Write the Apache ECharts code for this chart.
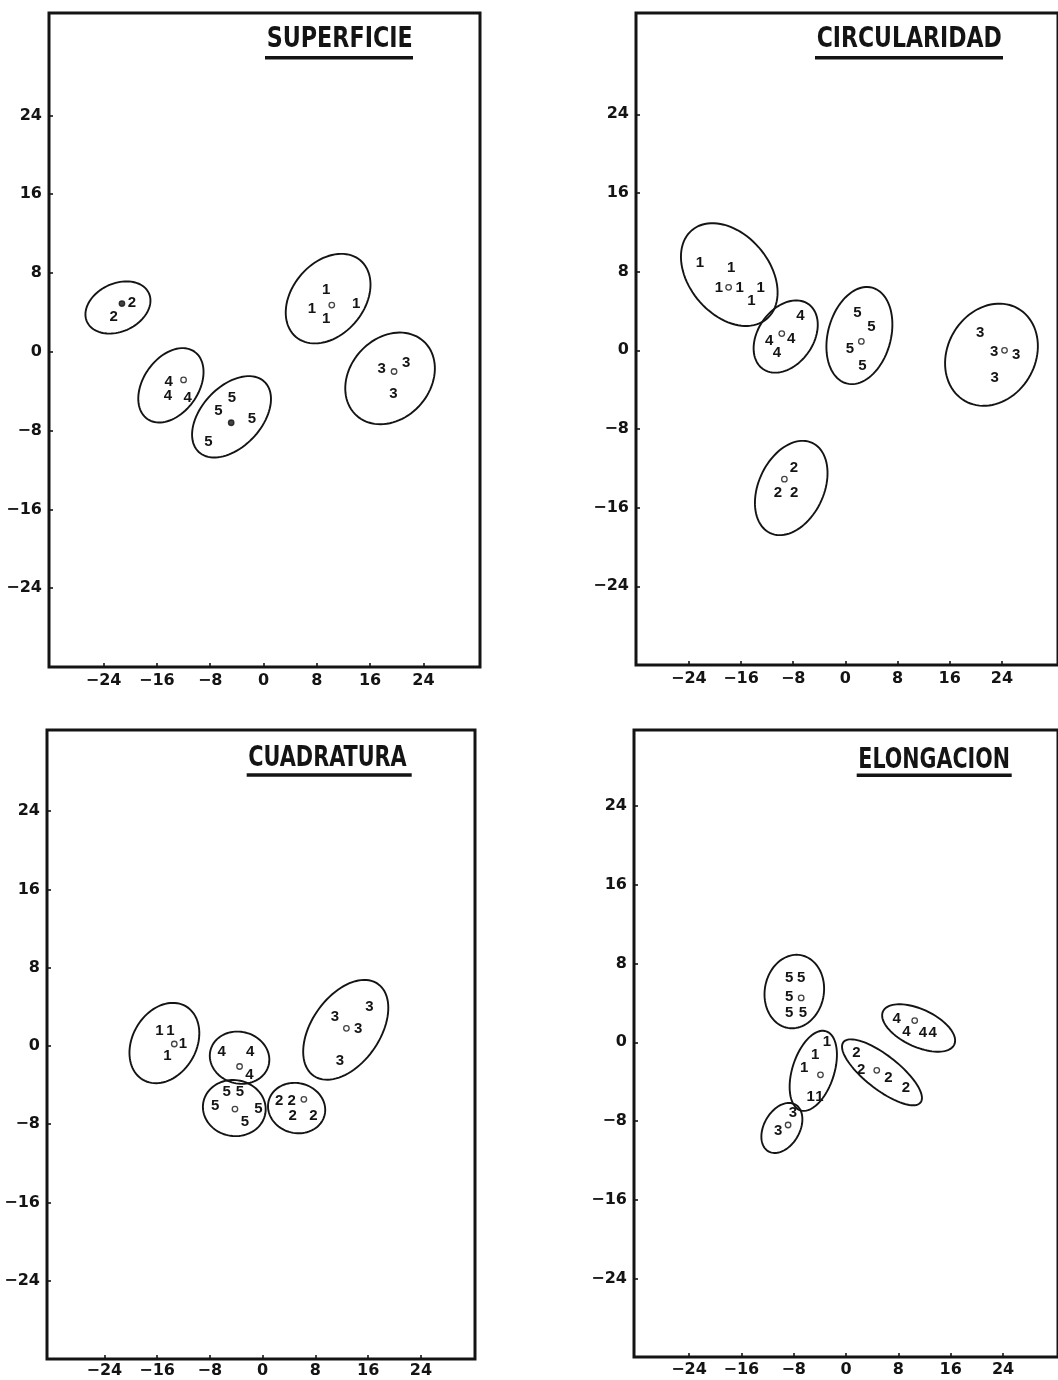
<!DOCTYPE html>
<html><head><meta charset="utf-8">
<script src="https://cdn.jsdelivr.net/npm/echarts@6/dist/echarts.min.js"></script>
<style>html,body{margin:0;padding:0;background:#fff}#chart{width:1058px;height:1380px}</style>
</head><body><div id="chart"></div>
<script>
// ---------- DATA ----------
const tickValues = [-24, -16, -8, 0, 8, 16, 24];
const panelTitles = ['SUPERFICIE', 'CIRCULARIDAD', 'CUADRATURA', 'ELONGACION'];

// points: [x, y, group]
const superficiePoints = [
  [9.4, 6.25, 1], [7.25, 4.4, 1], [9.4, 3.3, 1], [13.9, 4.85, 1],
  [-22.5, 3.6, 2], [-19.75, 5.0, 2],
  [17.75, -1.7, 3], [21.4, -1.1, 3], [19.5, -4.3, 3],
  [-14.25, -3.1, 4], [-14.35, -4.5, 4], [-11.4, -4.7, 4],
  [-4.75, -4.7, 5], [-6.75, -6.0, 5], [-1.75, -6.8, 5], [-8.25, -9.1, 5]
];
const superficieCentroids = [[10.25, 4.75, 1], [-21.25, 4.9, 2], [19.6, -2.0, 3], [-12.0, -2.85, 4], [-4.85, -7.2, 5]];
// ellipses: [cx, cy, semi-major, semi-minor, angle(deg)]
const superficieEllipses = [
  [9.7, 5.4, 5.08, 3.66, 50], [-21.85, 4.5, 3.46, 2.44, 25], [19.0, -2.7, 5.08, 4.07, 48],
  [-13.9, -3.4, 4.17, 2.8, 55], [-4.8, -6.6, 4.88, 3.05, 47]
];

const circularidadPoints = [
  [-22.3, 8.9, 1], [-17.5, 8.4, 1], [-19.4, 6.3, 1], [-16.2, 6.3, 1], [-14.4, 5.0, 1], [-13.0, 6.4, 1],
  [-7.9, -12.0, 2], [-10.35, -14.5, 2], [-7.85, -14.5, 2],
  [20.65, 1.8, 3], [22.8, -0.2, 3], [26.2, -0.45, 3], [22.9, -2.8, 3],
  [-6.9, 3.5, 4], [-11.7, 1.0, 4], [-8.3, 1.2, 4], [-10.5, -0.3, 4],
  [1.85, 3.85, 5], [4.0, 2.4, 5], [0.7, 0.15, 5], [2.6, -1.6, 5]
];
const circularidadCentroids = [[-17.9, 6.4, 1], [-9.35, -13.1, 2], [24.4, 0.0, 3], [-9.75, 1.7, 4], [2.45, 0.9, 5]];
const circularidadEllipses = [
  [-17.8, 7.7, 5.9, 4.08, -50], [-8.3, -14.0, 5.06, 3.32, 65], [22.4, -0.45, 5.42, 4.46, 60],
  [-9.15, 1.4, 4.03, 2.81, 55], [2.15, 1.5, 5.04, 3.2, 75]
];

const cuadraturaPoints = [
  [-15.65, 1.55, 1], [-14.0, 1.55, 1], [-12.1, 0.2, 1], [-14.45, -1.0, 1],
  [2.5, -5.65, 2], [4.4, -5.65, 2], [4.55, -7.1, 2], [7.7, -7.1, 2],
  [10.95, 3.0, 3], [16.2, 4.0, 3], [14.5, 1.7, 3], [11.7, -1.55, 3],
  [-6.2, -0.6, 4], [-1.9, -0.6, 4], [-2.0, -3.0, 4],
  [-5.45, -4.65, 5], [-3.45, -4.65, 5], [-7.2, -6.1, 5], [-0.65, -6.45, 5], [-2.7, -7.8, 5]
];
const cuadraturaCentroids = [[-13.4, 0.2, 1], [6.25, -5.45, 2], [12.7, 1.8, 3], [-3.5, -2.1, 4], [-4.2, -6.45, 5]];
const cuadraturaEllipses = [
  [-14.9, 0.3, 4.35, 3.27, 60], [5.15, -6.35, 2.95, 2.55, -15], [12.6, 1.65, 5.73, 3.48, 55],
  [-3.5, -1.2, 3.07, 2.64, -15], [-4.3, -6.35, 3.22, 2.86, -10]
];

const elongacionPoints = [
  [-2.9, 0.0, 1], [-4.7, -1.3, 1], [-6.4, -2.55, 1], [-5.4, -5.5, 1], [-4.05, -5.5, 1],
  [1.6, -1.1, 2], [2.3, -2.85, 2], [6.5, -3.6, 2], [9.15, -4.6, 2],
  [-8.1, -7.2, 3], [-10.35, -9.0, 3],
  [7.75, 2.4, 4], [9.25, 1.1, 4], [11.75, 0.97, 4], [13.25, 0.97, 4],
  [-8.7, 6.5, 5], [-6.85, 6.5, 5], [-8.7, 4.6, 5], [-8.7, 3.0, 5], [-6.6, 3.0, 5]
];
const elongacionCentroids = [[-3.9, -3.3, 1], [4.7, -2.85, 2], [-8.85, -8.4, 3], [10.5, 2.2, 4], [-6.85, 4.5, 5]];
const elongacionEllipses = [
  [-5.0, -2.9, 4.22, 2.12, 72], [5.5, -3.05, 4.97, 1.72, -38], [-9.8, -8.7, 2.74, 1.81, 60],
  [11.1, 1.45, 3.99, 1.9, -25], [-7.9, 5.15, 3.75, 3.0, 80]
];

// ---------- LAYOUT / STYLE ----------
const INK = '#141414';
const panels = [
  { title: panelTitles[0], points: superficiePoints, centroids: superficieCentroids, ellipses: superficieEllipses,
    grid: { left: 49, top: 13, width: 431, height: 654 }, xr: [-32.2, 32.5], yr: [-32.0, 34.4],
    tbox: { x0: 266.7, x1: 412.7, cy: 39.3, uy: 56, ux0: 265, ux1: 413 }, xMargin: 6, filled: [2, 5] },
  { title: panelTitles[1], points: circularidadPoints, centroids: circularidadCentroids, ellipses: circularidadEllipses,
    grid: { left: 636, top: 13, width: 431, height: 652 }, xr: [-32.1, 32.6], yr: [-32.0, 34.3],
    tbox: { x0: 816.7, x1: 1001.7, cy: 39.6, uy: 56, ux0: 815, ux1: 1003 }, xMargin: 6, filled: [] },
  { title: panelTitles[2], points: cuadraturaPoints, centroids: cuadraturaCentroids, ellipses: cuadraturaEllipses,
    grid: { left: 47, top: 730, width: 428, height: 629 }, xr: [-32.7, 32.2], yr: [-32.0, 32.3],
    tbox: { x0: 248.3, x1: 406.7, cy: 758.8, uy: 773.3, ux0: 246.7, ux1: 411.7 }, xMargin: 4, filled: [] },
  { title: panelTitles[3], points: elongacionPoints, centroids: elongacionCentroids, ellipses: elongacionEllipses,
    grid: { left: 634, top: 730, width: 430, height: 627 }, xr: [-32.4, 32.4], yr: [-31.95, 31.7],
    tbox: { x0: 858.3, x1: 1010, cy: 760.8, uy: 773.5, ux0: 856.7, ux1: 1011.7 }, xMargin: 5, filled: [] }
];

const TITLE_FONT = 'bold 28px "DejaVu Sans Condensed", "Liberation Sans Narrow", "DejaVu Sans", sans-serif';
const DIGIT_FONT = 'bold 15px "Liberation Sans", Arial, sans-serif';
const TICK_FONT_FAMILY = '"DejaVu Sans", sans-serif';

const measureCtx = document.createElement('canvas').getContext('2d');
function textWidth(t, font) { measureCtx.font = font; return measureCtx.measureText(t).width; }

function ellipseItem(params, api) {
  const c = api.coord([api.value(0), api.value(1)]);
  const sy = api.size([0, 1])[1];
  const a = api.value(2) * sy, b = api.value(3) * sy, th = api.value(4) * Math.PI / 180;
  const pts = [];
  const N = 90;
  for (let i = 0; i < N; i++) {
    const t = i / N * 2 * Math.PI;
    const u = a * Math.cos(t), v = b * Math.sin(t);
    pts.push([c[0] + u * Math.cos(th) - v * Math.sin(th), c[1] - (u * Math.sin(th) + v * Math.cos(th))]);
  }
  return { type: 'polygon', shape: { points: pts }, style: { fill: null, stroke: INK, lineWidth: 1.9 } };
}
function digitItem(params, api) {
  const c = api.coord([api.value(0), api.value(1)]);
  return { type: 'text', x: c[0], y: c[1],
    style: { text: String(api.value(2)), font: DIGIT_FONT, fill: INK, align: 'center', verticalAlign: 'middle' } };
}

const grids = [], xAxes = [], yAxes = [], series = [], graphics = [];
panels.forEach((p, i) => {
  grids.push(Object.assign({ show: true, borderColor: INK, borderWidth: 3, backgroundColor: 'transparent', containLabel: false }, p.grid));
  const tickLine = { show: true, inside: true, length: 4, lineStyle: { color: INK, width: 1.6 }, customValues: tickValues };
  const fmt = v => (v < 0 ? '\u2212' + Math.abs(v) : String(v));
  xAxes.push({ gridIndex: i, type: 'value', position: 'bottom', min: p.xr[0], max: p.xr[1],
    axisLine: { show: false, onZero: false }, splitLine: { show: false }, axisTick: tickLine,
    axisLabel: { customValues: tickValues, formatter: fmt, color: INK, fontSize: 16, fontWeight: 'bold', fontFamily: TICK_FONT_FAMILY, margin: p.xMargin } });
  yAxes.push({ gridIndex: i, type: 'value', position: 'left', min: p.yr[0], max: p.yr[1],
    axisLine: { show: false, onZero: false }, splitLine: { show: false }, axisTick: tickLine,
    axisLabel: { customValues: tickValues, formatter: fmt, color: INK, fontSize: 16, fontWeight: 'bold', fontFamily: TICK_FONT_FAMILY, margin: 7 } });
  series.push({ type: 'custom', xAxisIndex: i, yAxisIndex: i, renderItem: ellipseItem, data: p.ellipses,
    encode: { x: 0, y: 1 }, silent: true, clip: false, z: 2 });
  series.push({ type: 'custom', xAxisIndex: i, yAxisIndex: i, renderItem: digitItem, data: p.points,
    encode: { x: 0, y: 1 }, silent: true, z: 3 });
  series.push({ type: 'scatter', xAxisIndex: i, yAxisIndex: i, symbol: 'circle', symbolSize: 5.5, silent: true, z: 4,
    data: p.centroids.map(c => ({ value: [c[0], c[1]],
      itemStyle: { color: p.filled.indexOf(c[2]) >= 0 ? INK : '#fff', borderColor: INK, borderWidth: 1.3 } })) });
  // title + underline
  const tb = p.tbox;
  const w = textWidth(p.title, TITLE_FONT);
  graphics.push({ type: 'text', x: tb.x0, y: tb.cy, scaleX: (tb.x1 - tb.x0) / w, z: 10,
    style: { text: p.title, font: TITLE_FONT, fill: INK, align: 'left', verticalAlign: 'middle' } });
  graphics.push({ type: 'rect', z: 10, shape: { x: tb.ux0, y: tb.uy, width: tb.ux1 - tb.ux0, height: 3.5 }, style: { fill: INK } });
});

const chart = echarts.init(document.getElementById('chart'), null, { renderer: 'canvas' });
chart.setOption({
  animation: false,
  backgroundColor: '#ffffff',
  grid: grids, xAxis: xAxes, yAxis: yAxes, series: series, graphic: graphics
});
</script></body></html>
